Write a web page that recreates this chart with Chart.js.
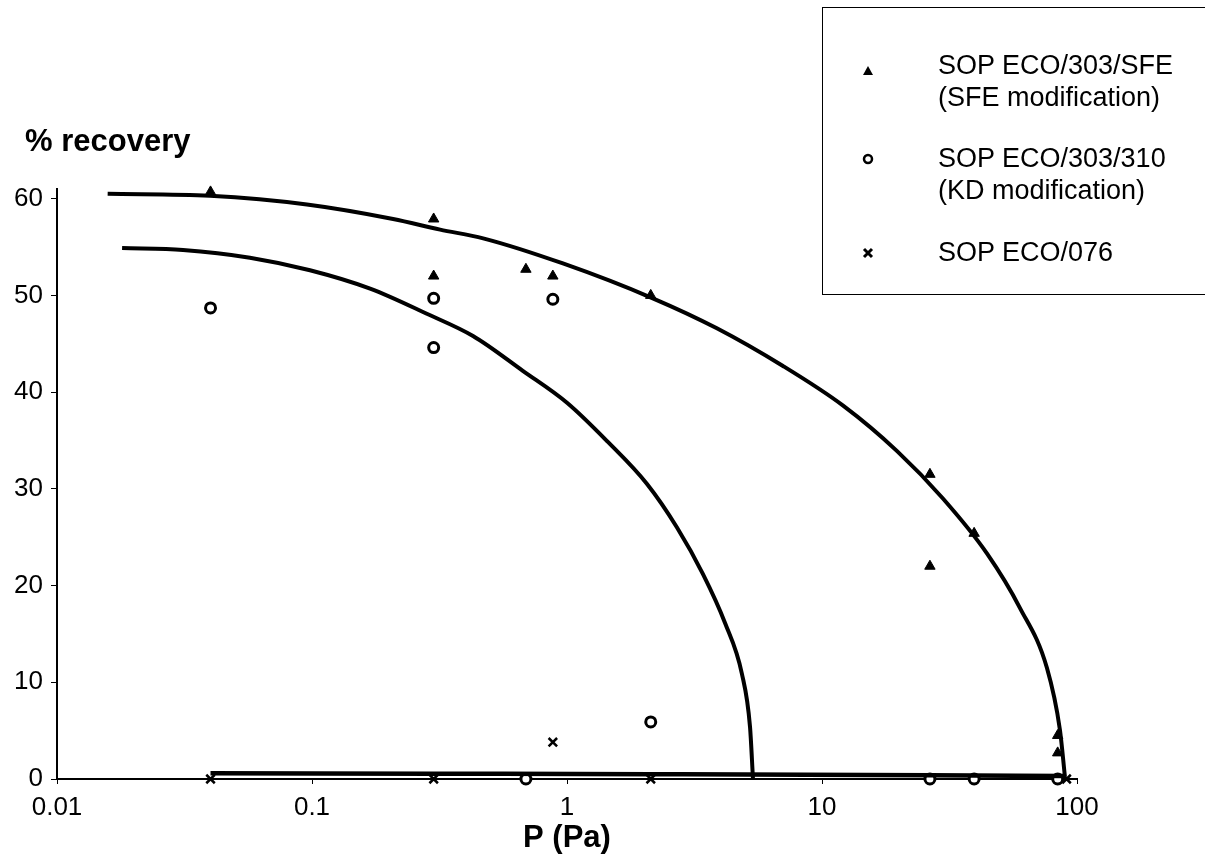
<!DOCTYPE html>
<html>
<head>
<meta charset="utf-8">
<script src="https://cdn.jsdelivr.net/npm/chart.js@4/dist/chart.umd.min.js"></script>
<style>
	html, body { margin: 0; padding: 0; background: #fff; }
	#wrap { position: relative; width: 1205px; height: 867px; overflow: hidden; font-family: "Liberation Sans", Arial, sans-serif; }
	#chart { position: absolute; left: 0; top: 0; }
	.ylabel { position: absolute; left: 25px; top: 123px; font-size: 31px; font-weight: bold; color: #000; }
	#legend { position: absolute; left: 822px; top: 7px; width: 420px; height: 286px; border: 1.5px solid #000; }
	.lg { position: absolute; left: 115px; font-size: 27px; color: #000; white-space: nowrap; line-height: 32px; }
	.mk { position: absolute; left: 37px; }
</style>
</head>
<body>
<div id="wrap">
	<canvas id="chart" width="1205" height="867"></canvas>
	<div class="ylabel">% recovery</div>
	<div id="legend">
		<svg class="mk" style="top:55px" width="16" height="16"><polygon points="8,3 13,12 3,12" fill="#000"/></svg>
		<div class="lg" style="top:41px">SOP ECO/303/SFE<br>(SFE modification)</div>
		<svg class="mk" style="top:143px" width="16" height="16"><circle cx="8" cy="8" r="4" fill="#fff" stroke="#000" stroke-width="2.5"/></svg>
		<div class="lg" style="top:134px">SOP ECO/303/310<br>(KD modification)</div>
		<svg class="mk" style="top:237px" width="16" height="16"><path d="M4,4 L12,12 M12,4 L4,12" stroke="#000" stroke-width="3"/></svg>
		<div class="lg" style="top:228px">SOP ECO/076</div>
	</div>
</div>
<script>
// measured points (P in Pa, % recovery)
const sfeP = [0.04, 0.3, 0.3, 0.69, 0.88, 2.13, 26.5, 26.5, 39.5, 84, 84];
const sfeRec = [60.7, 57.9, 52.0, 52.7, 52.0, 50.0, 31.5, 22.0, 25.4, 4.5, 2.7];
const kdP = [0.04, 0.3, 0.3, 0.88, 2.13, 0.69, 26.5, 39.5, 84];
const kdRec = [48.7, 49.7, 44.6, 49.6, 5.9, 0, 0, 0, 0];
const eco076P = [0.04, 0.3, 0.88, 2.13, 91];
const eco076Rec = [0, 0, 3.8, 0, 0];

// fitted curves
const sfeFitP = [0.0158, 0.0398, 0.0955, 0.208, 0.318, 0.469, 0.964, 2.17, 3.87, 7.03, 12.1, 19.7, 29.8, 44.4, 59.7, 76.2, 85.7, 89.7];
const sfeFitRec = [60.5, 60.3, 59.4, 57.9, 56.8, 55.9, 53.3, 49.7, 46.6, 42.7, 38.6, 33.9, 29.0, 23.3, 17.7, 11.5, 5.1, 0.2];
const kdFitP = [0.018, 0.0312, 0.0571, 0.0982, 0.169, 0.282, 0.428, 0.671, 1.0, 1.44, 2.06, 2.70, 3.41, 4.17, 4.85, 5.22, 5.36];
const kdFitRec = [54.9, 54.7, 53.9, 52.6, 50.7, 48.1, 45.8, 42.2, 38.9, 34.9, 30.5, 26.0, 21.2, 16.1, 10.9, 5.4, 0.1];
const eco076FitP = [0.04, 0.3, 2.13, 26.5, 90];
const eco076FitRec = [0.6, 0.55, 0.5, 0.4, 0.3];

// axis ticks
const xTicks = [0.01, 0.1, 1, 10, 100];
const yTicks = [0, 10, 20, 30, 40, 50, 60];

function pts(xs, ys) {
	return xs.map(function (x, i) { return { x: x, y: ys[i] }; });
}

function fitLine(xs, ys, width) {
	return {
		data: pts(xs, ys),
		showLine: true,
		borderColor: '#000',
		borderWidth: width,
		pointRadius: 0,
		cubicInterpolationMode: 'monotone',
		clip: false
	};
}

new Chart(document.getElementById('chart'), {
	type: 'scatter',
	data: {
		datasets: [
			fitLine(sfeFitP, sfeFitRec, 4),
			fitLine(kdFitP, kdFitRec, 4),
			fitLine(eco076FitP, eco076FitRec, 4.5),
			{
				data: pts(sfeP, sfeRec),
				pointStyle: 'triangle',
				pointRadius: 6,
				backgroundColor: '#000',
				borderColor: '#000',
				borderWidth: 1,
				clip: false
			},
			{
				data: pts(kdP, kdRec),
				pointStyle: 'circle',
				pointRadius: 5,
				backgroundColor: '#fff',
				borderColor: '#000',
				borderWidth: 3,
				clip: false
			},
			{
				data: pts(eco076P, eco076Rec),
				pointStyle: 'crossRot',
				pointRadius: 6,
				borderColor: '#000',
				borderWidth: 2.5,
				clip: false
			}
		]
	},
	options: {
		responsive: false,
		animation: false,
		layout: { padding: { left: 0, right: 128, top: 189, bottom: 0 } },
		plugins: { legend: { display: false }, tooltip: { enabled: false } },
		scales: {
			x: {
				type: 'logarithmic',
				min: 0.01,
				max: 100,
				afterBuildTicks: function (scale) {
					scale.ticks = xTicks.map(function (v) { return { value: v }; });
				},
				afterFit: function (scale) { scale.height = 88; },
				ticks: {
					color: '#000',
					font: { family: 'Liberation Sans, Arial', size: 26 },
					padding: 8,
					maxRotation: 0,
					autoSkip: false,
					callback: function (v) { return String(v); }
				},
				grid: { display: true, drawOnChartArea: false, color: '#000', tickLength: 5, lineWidth: 1 },
				border: { display: true, color: '#000', width: 2 },
				title: {
					display: true,
					text: 'P (Pa)',
					color: '#000',
					font: { family: 'Liberation Sans, Arial', size: 31, weight: 'bold' },
					padding: { top: 0, bottom: 10 }
				}
			},
			y: {
				min: 0,
				max: 61,
				afterBuildTicks: function (scale) {
					scale.ticks = yTicks.map(function (v) { return { value: v }; });
				},
				afterFit: function (scale) { scale.width = 57; },
				ticks: {
					color: '#000',
					font: { family: 'Liberation Sans, Arial', size: 26 },
					padding: 8
				},
				grid: { display: true, drawOnChartArea: false, color: '#000', tickLength: 6, lineWidth: 1 },
				border: { display: true, color: '#000', width: 2 }
			}
		}
	}
});
</script>
</body>
</html>
